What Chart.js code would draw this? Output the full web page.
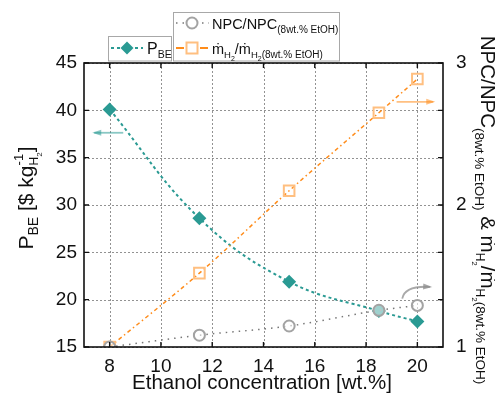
<!DOCTYPE html>
<html>
<head>
<meta charset="utf-8">
<script src="https://cdn.jsdelivr.net/npm/chart.js@4.4.1/dist/chart.umd.min.js"></script>
<style>
  html, body { margin: 0; padding: 0; background: #fff; }
  canvas { display: block; }
</style>
</head>
<body>
<canvas id="chart" width="495" height="396"></canvas>
<script>
// ethanol concentration in the feed [wt.%]
const concentration = [8, 11.5, 15, 18.5, 20];
// break-even hydrogen price [$ per kg H2]
const breakEvenPrice = [40.1, 28.6, 21.9, 18.8, 17.7];
// ratios relative to the 8 wt.% case
const npcRatio = [1.0, 1.083, 1.148, 1.258, 1.293];
const h2FlowRatio = [1.0, 1.52, 2.10, 2.65, 2.887];

const xTicks = [8, 10, 12, 14, 16, 18, 20];
const leftTicks = [15, 20, 25, 30, 35, 40, 45];
const rightTicks = [1, 4 / 3, 5 / 3, 2, 7 / 3, 8 / 3, 3];

const TEAL = '#2a9a93';
const ORANGE = '#ff8c1a';
const ORANGE_LIGHT = '#ffbf80';
const GREY = '#a3a3a3';
const FONT = '"Liberation Sans", Arial, Helvetica, sans-serif';

function pts(ys) {
  return concentration.map((x, i) => ({x: x, y: ys[i]}));
}

function font(size) {
  return size + 'px ' + FONT;
}

// rich text: list of runs {t, s, dy}, or {stack: [runs, runs]} drawn over each other
function richWidth(ctx, runs) {
  let w = 0;
  runs.forEach((r) => {
    if (r.stack) {
      w += Math.max.apply(null, r.stack.map((s) => richWidth(ctx, s)));
    } else {
      ctx.font = font(r.s);
      w += ctx.measureText(r.t).width;
    }
  });
  return w;
}

function richDraw(ctx, x, y, runs) {
  runs.forEach((r) => {
    if (r.stack) {
      r.stack.forEach((s) => richDraw(ctx, x, y, s));
      x += Math.max.apply(null, r.stack.map((s) => richWidth(ctx, s)));
    } else {
      ctx.font = font(r.s);
      ctx.fillText(r.t, x, y + (r.dy || 0));
      x += ctx.measureText(r.t).width;
    }
  });
}

function arrow(ctx, x0, y0, x1, y1, color, cx, cy) {
  ctx.save();
  ctx.strokeStyle = color;
  ctx.fillStyle = color;
  ctx.lineWidth = 1.8;
  ctx.beginPath();
  ctx.moveTo(x0, y0);
  let ax = x0, ay = y0;
  if (cx !== undefined) {
    ctx.quadraticCurveTo(cx, cy, x1, y1);
    ax = cx; ay = cy;
  } else {
    ctx.lineTo(x1, y1);
  }
  ctx.stroke();
  const a = Math.atan2(y1 - ay, x1 - ax);
  ctx.beginPath();
  ctx.moveTo(x1 + 2 * Math.cos(a), y1 + 2 * Math.sin(a));
  ctx.lineTo(x1 - 7 * Math.cos(a) + 3 * Math.sin(a), y1 - 7 * Math.sin(a) - 3 * Math.cos(a));
  ctx.lineTo(x1 - 7 * Math.cos(a) - 3 * Math.sin(a), y1 - 7 * Math.sin(a) + 3 * Math.cos(a));
  ctx.closePath();
  ctx.fill();
  ctx.restore();
}

const decorations = {
  id: 'decorations',
  beforeDatasetsDraw(chart) {
    const {ctx, chartArea: a, scales} = chart;
    ctx.save();
    ctx.strokeStyle = 'rgba(110,110,110,0.75)';
    ctx.lineWidth = 1;
    ctx.setLineDash([2, 2]);
    xTicks.forEach((v) => {
      const px = Math.round(scales.x.getPixelForValue(v)) + 0.5;
      ctx.beginPath(); ctx.moveTo(px, a.top); ctx.lineTo(px, a.bottom); ctx.stroke();
    });
    leftTicks.forEach((v) => {
      const py = Math.round(scales.y.getPixelForValue(v)) + 0.5;
      ctx.beginPath(); ctx.moveTo(a.left, py); ctx.lineTo(a.right, py); ctx.stroke();
    });
    ctx.restore();
  },
  afterDatasetsDraw(chart) {
    const {ctx, chartArea: a, scales} = chart;
    const x = scales.x, y = scales.y, y2 = scales.y2;
    ctx.save();
    // frame and inward tick marks
    ctx.strokeStyle = '#111';
    ctx.lineWidth = 1.6;
    ctx.strokeRect(a.left, a.top, a.right - a.left, a.bottom - a.top);
    ctx.lineWidth = 1.4;
    ctx.beginPath();
    xTicks.forEach((v) => {
      const px = x.getPixelForValue(v);
      ctx.moveTo(px, a.bottom); ctx.lineTo(px, a.bottom - 5);
      ctx.moveTo(px, a.top); ctx.lineTo(px, a.top + 5);
    });
    leftTicks.forEach((v) => {
      const py = y.getPixelForValue(v);
      ctx.moveTo(a.left, py); ctx.lineTo(a.left + 5, py);
    });
    rightTicks.forEach((v) => {
      const py = y2.getPixelForValue(v);
      ctx.moveTo(a.right, py); ctx.lineTo(a.right - 5, py);
    });
    ctx.stroke();
    ctx.restore();

    // arrows pointing to the axis each series belongs to
    arrow(ctx, x.getPixelForValue(8.53), y.getPixelForValue(37.63),
      x.getPixelForValue(7.4), y.getPixelForValue(37.63), 'rgba(42,154,147,0.55)');
    arrow(ctx, x.getPixelForValue(19.19), y.getPixelForValue(40.9),
      x.getPixelForValue(20.62), y.getPixelForValue(40.9), 'rgba(255,140,26,0.55)');
    arrow(ctx, x.getPixelForValue(19.41), y.getPixelForValue(20.1),
      x.getPixelForValue(20.5), y.getPixelForValue(21.35), 'rgba(140,140,140,0.75)',
      x.getPixelForValue(19.5), y.getPixelForValue(21.5));
  },
  afterDraw(chart) {
    const {ctx} = chart;
    ctx.save();
    ctx.fillStyle = '#111';
    ctx.textBaseline = 'alphabetic';

    // x axis title
    ctx.font = font(20.5);
    ctx.textAlign = 'center';
    ctx.fillText('Ethanol concentration [wt.%]', 262, 389);
    ctx.textAlign = 'left';

    // left axis title
    const leftTitle = [
      {t: 'P', s: 21}, {t: 'BE', s: 14, dy: 5}, {t: ' [$ kg', s: 21},
      {stack: [[{t: '-1', s: 13, dy: -10}], [{t: 'H', s: 12, dy: 5}, {t: '2', s: 8, dy: 9}]]},
      {t: ']', s: 21}
    ];
    ctx.save();
    ctx.translate(33, 198);
    ctx.rotate(-Math.PI / 2);
    richDraw(ctx, -richWidth(ctx, leftTitle) / 2, 0, leftTitle);
    ctx.restore();

    // right axis title
    const rightTitle = [
      {t: 'NPC/NPC', s: 20.5}, {t: '(8wt.% EtOH)', s: 13.5, dy: 6},
      {t: ' & ṁ', s: 20.5}, {t: 'H', s: 12, dy: 5}, {t: '2', s: 8, dy: 9},
      {t: '/ṁ', s: 20.5}, {t: 'H', s: 12, dy: 5}, {t: '2', s: 8, dy: 9},
      {t: '(8wt.% EtOH)', s: 13.5, dy: 5}
    ];
    ctx.save();
    ctx.translate(481, 210);
    ctx.rotate(Math.PI / 2);
    richDraw(ctx, -richWidth(ctx, rightTitle) / 2, 0, rightTitle);
    ctx.restore();

    // legend boxes
    ctx.strokeStyle = '#a8a8a8';
    ctx.lineWidth = 1;
    ctx.fillStyle = '#fff';
    ctx.fillRect(108.5, 36.5, 63, 24.5);
    ctx.strokeRect(108.5, 36.5, 63, 24.5);
    ctx.fillRect(173.5, 12.5, 166, 48.5);
    ctx.strokeRect(173.5, 12.5, 166, 48.5);

    // P_BE entry
    ctx.save();
    ctx.strokeStyle = TEAL;
    ctx.lineWidth = 2;
    ctx.setLineDash([3, 3]);
    ctx.beginPath(); ctx.moveTo(111, 48); ctx.lineTo(143, 48); ctx.stroke();
    ctx.setLineDash([]);
    ctx.fillStyle = TEAL;
    ctx.beginPath();
    ctx.moveTo(127, 41.5); ctx.lineTo(133.5, 48); ctx.lineTo(127, 54.5); ctx.lineTo(120.5, 48);
    ctx.closePath(); ctx.fill();
    ctx.restore();

    // NPC entry
    ctx.save();
    ctx.strokeStyle = '#777';
    ctx.lineWidth = 1.5;
    ctx.setLineDash([1.5, 5]);
    ctx.beginPath(); ctx.moveTo(176, 23); ctx.lineTo(209, 23); ctx.stroke();
    ctx.setLineDash([]);
    ctx.fillStyle = '#fff';
    ctx.strokeStyle = GREY;
    ctx.lineWidth = 2;
    ctx.beginPath(); ctx.arc(192, 23, 5.5, 0, Math.PI * 2); ctx.fill(); ctx.stroke();
    // H2 flow entry
    ctx.strokeStyle = ORANGE;
    ctx.lineWidth = 2;
    ctx.beginPath(); ctx.moveTo(176, 48); ctx.lineTo(184, 48); ctx.moveTo(200, 48); ctx.lineTo(208, 48); ctx.stroke();
    ctx.strokeStyle = ORANGE_LIGHT;
    ctx.strokeRect(186.5, 42.5, 11, 11);
    ctx.restore();

    ctx.fillStyle = '#111';
    richDraw(ctx, 147, 54, [{t: 'P', s: 16}, {t: 'BE', s: 10.5, dy: 4}]);
    richDraw(ctx, 212, 28.5, [{t: 'NPC/NPC', s: 14.5}, {t: '(8wt.% EtOH)', s: 10, dy: 4}]);
    richDraw(ctx, 212, 53.5, [
      {t: 'ṁ', s: 14.5}, {t: 'H', s: 9.5, dy: 4}, {t: '2', s: 7, dy: 7},
      {t: '/ṁ', s: 14.5}, {t: 'H', s: 9.5, dy: 4}, {t: '2', s: 7, dy: 7},
      {t: '(8wt.% EtOH)', s: 10, dy: 4}
    ]);
    ctx.restore();
  }
};

new Chart(document.getElementById('chart'), {
  type: 'line',
  data: {
    datasets: [
      {
        label: 'NPC/NPC (8wt.% EtOH)',
        data: pts(npcRatio),
        yAxisID: 'y2',
        borderColor: '#777',
        borderWidth: 1.5,
        borderDash: [1.5, 5],
        cubicInterpolationMode: 'monotone',
        pointStyle: 'circle',
        pointRadius: 5.5,
        pointBorderWidth: 2,
        pointBorderColor: GREY,
        pointBackgroundColor: 'rgba(255,255,255,0.55)'
      },
      {
        label: 'mH2/mH2 (8wt.% EtOH)',
        data: pts(h2FlowRatio),
        yAxisID: 'y2',
        borderColor: ORANGE,
        borderWidth: 1.5,
        borderDash: [4, 3, 1.5, 3],
        cubicInterpolationMode: 'monotone',
        pointStyle: 'rect',
        pointRadius: 7.5,
        pointBorderWidth: 2,
        pointBorderColor: ORANGE_LIGHT,
        pointBackgroundColor: 'rgba(255,255,255,0)'
      },
      {
        label: 'P_BE',
        data: pts(breakEvenPrice),
        yAxisID: 'y',
        borderColor: TEAL,
        borderWidth: 2,
        borderDash: [3, 3],
        tension: 0.4,
        pointStyle: 'rectRot',
        pointRadius: 7,
        pointBorderWidth: 0,
        pointBackgroundColor: TEAL
      }
    ]
  },
  options: {
    responsive: false,
    animation: false,
    layout: {padding: {top: 63, left: 0, right: 0, bottom: 0}},
    plugins: {legend: {display: false}, tooltip: {enabled: false}},
    scales: {
      x: {
        type: 'linear',
        min: 7,
        max: 21,
        grid: {display: false, drawTicks: false},
        border: {display: false},
        afterBuildTicks: (s) => { s.ticks = xTicks.map((v) => ({value: v})); },
        afterFit: (s) => { s.height = 49; },
        ticks: {font: {family: FONT, size: 19}, color: '#111', padding: 8}
      },
      y: {
        position: 'left',
        min: 15,
        max: 45,
        grid: {display: false, drawTicks: false},
        border: {display: false},
        afterBuildTicks: (s) => { s.ticks = leftTicks.map((v) => ({value: v})); },
        afterFit: (s) => { s.width = 84; },
        ticks: {font: {family: FONT, size: 19}, color: '#111', padding: 7}
      },
      y2: {
        position: 'right',
        min: 1,
        max: 3,
        grid: {display: false, drawTicks: false},
        border: {display: false},
        afterBuildTicks: (s) => { s.ticks = rightTicks.map((v) => ({value: v})); },
        afterFit: (s) => { s.width = 52; },
        ticks: {
          font: {family: FONT, size: 19},
          color: '#111',
          padding: 13,
          callback: (v) => Math.abs(v - Math.round(v)) < 1e-6 ? String(Math.round(v)) : ''
        }
      }
    }
  },
  plugins: [decorations]
});
</script>
</body>
</html>
